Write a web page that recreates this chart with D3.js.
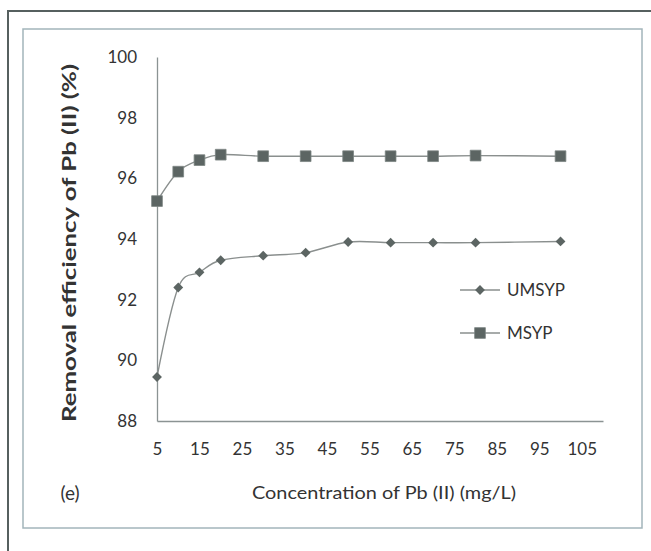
<!DOCTYPE html>
<html>
<head>
<meta charset="utf-8">
<script src="https://cdn.jsdelivr.net/npm/d3@7"></script>
<style>
  html, body { margin: 0; padding: 0; background: #fff; }
  svg { display: block; }
  text { font-family: Lato, "Open Sans", sans-serif; fill: #333; }
</style>
</head>
<body>
<svg id="chart" width="651" height="551"></svg>
<script>
// Pb(II) concentration (mg/L) and removal efficiency (%)
const concentration = [5, 10, 15, 20, 30, 40, 50, 60, 70, 80, 100];
const umsyp = [89.45, 92.4, 92.9, 93.3, 93.45, 93.55, 93.9, 93.88, 93.88, 93.88, 93.92];
const msyp  = [95.25, 96.22, 96.6, 96.78, 96.73, 96.73, 96.73, 96.73, 96.73, 96.75, 96.73];
const xTicks = [5, 15, 25, 35, 45, 55, 65, 75, 85, 95, 105];
const yTicks = [88, 90, 92, 94, 96, 98, 100];
const seriesNames = ["UMSYP", "MSYP"];

const svg = d3.select("#chart");

// frames
svg.append("rect").attr("x", 8).attr("y", 11).attr("width", 700).attr("height", 600)
  .attr("fill", "none").attr("stroke", "#56605f").attr("stroke-width", 2);
svg.append("rect").attr("x", 23).attr("y", 29).attr("width", 619).attr("height", 499)
  .attr("fill", "none").attr("stroke", "#a3b5bb").attr("stroke-width", 1.5);

const x = d3.scaleLinear().domain([5, 110]).range([157, 603]);
const y = d3.scaleLinear().domain([88, 100]).range([421, 57]);

// axes
const xAxis = d3.axisBottom(x).tickValues(xTicks).tickSize(0).tickPadding(22);
const yAxis = d3.axisLeft(y).tickValues(yTicks).tickSize(0).tickPadding(20);

const gx = svg.append("g").attr("transform", `translate(0,${y(88)})`).call(xAxis);
const gy = svg.append("g").attr("transform", `translate(${x(5)},0)`).call(yAxis);
[gx, gy].forEach(g => {
  g.select(".domain").attr("stroke", "#8b9393").attr("stroke-width", 1.3);
  g.selectAll("text").attr("font-size", 17).attr("font-family", "Lato, sans-serif").attr("fill", "#333");
});

// smoothed lines
const line = d3.line()
  .x((d, i) => x(concentration[i]))
  .y(d => y(d))
  .curve(d3.curveCardinal.tension(0));

const markerFill = "#5c6563";
const lineColor = "#8a8f8e";

svg.append("path").datum(umsyp).attr("d", line)
  .attr("fill", "none").attr("stroke", lineColor).attr("stroke-width", 1.4);
svg.append("path").datum(msyp).attr("d", line)
  .attr("fill", "none").attr("stroke", lineColor).attr("stroke-width", 1.4);

const diamond = d3.symbol().type(d3.symbolDiamond2).size(62);
const square = d3.symbol().type(d3.symbolSquare).size(115);

svg.append("g").selectAll("path").data(umsyp).join("path")
  .attr("d", diamond)
  .attr("transform", (d, i) => `translate(${x(concentration[i])},${y(d)})`)
  .attr("fill", markerFill);

svg.append("g").selectAll("path").data(msyp).join("path")
  .attr("d", square)
  .attr("transform", (d, i) => `translate(${x(concentration[i])},${y(d)})`)
  .attr("fill", markerFill).attr("stroke", "#7c8583").attr("stroke-width", 0.8);

// legend
const legend = svg.append("g");
seriesNames.forEach((name, i) => {
  const ly = 290 + i * 43;
  legend.append("line").attr("x1", 460).attr("x2", 500).attr("y1", ly).attr("y2", ly)
    .attr("stroke", lineColor).attr("stroke-width", 1.4);
  legend.append("path")
    .attr("d", i === 0 ? diamond : square)
    .attr("transform", `translate(480,${ly})`)
    .attr("fill", markerFill)
    .attr("stroke", i === 0 ? "none" : "#7c8583").attr("stroke-width", 0.8);
  legend.append("text").attr("x", 507).attr("y", ly).attr("dy", "0.35em")
    .attr("font-size", 17).text(name);
});

// titles
svg.append("text")
  .attr("transform", `translate(69,243) rotate(-90)`)
  .attr("text-anchor", "middle").attr("dy", "0.35em")
  .attr("font-size", 19).attr("font-weight", "bold")
  .attr("textLength", 358).attr("lengthAdjust", "spacingAndGlyphs")
  .text("Removal efficiency of Pb (II) (%)");

svg.append("text")
  .attr("x", 384).attr("y", 493).attr("dy", "0.35em")
  .attr("text-anchor", "middle").attr("font-size", 18)
  .attr("textLength", 264).attr("lengthAdjust", "spacingAndGlyphs")
  .text("Concentration of Pb (II) (mg/L)");

svg.append("text")
  .attr("x", 70).attr("y", 493).attr("dy", "0.35em")
  .attr("text-anchor", "middle").attr("font-size", 19)
  .text("(e)");
</script>
</body>
</html>
